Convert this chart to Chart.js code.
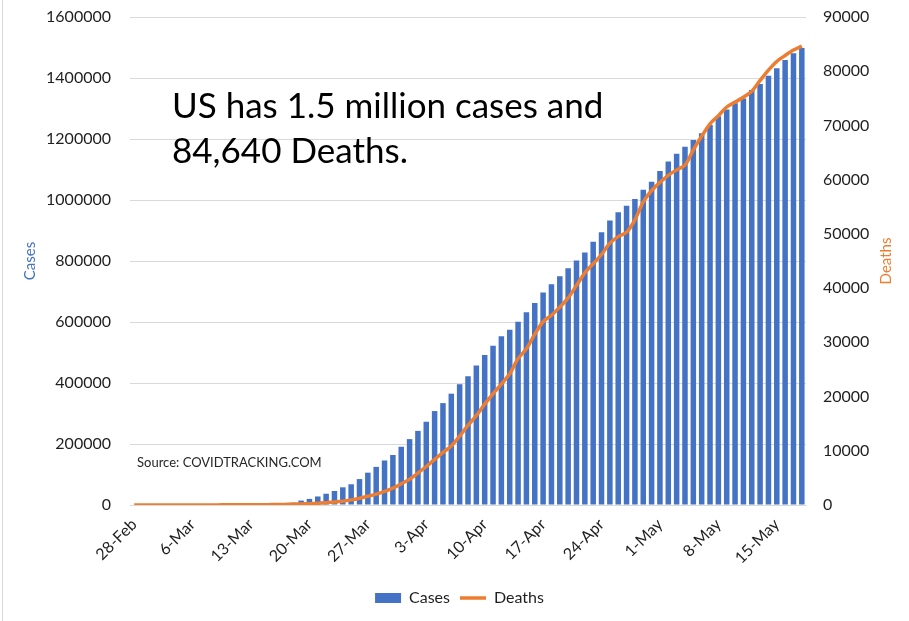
<!DOCTYPE html>
<html lang="en">
<head>
<meta charset="UTF-8">
<title>US COVID-19 Cases and Deaths</title>
<script src="https://cdn.jsdelivr.net/npm/chart.js"></script>
<style>
  body { margin: 0; background: #fff; }
  #wrap { width: 909px; height: 621px; }
</style>
</head>
<body>
<div id="wrap"><canvas id="chart" width="909" height="621"></canvas></div>
<script>
  // one label per day, 28-Feb to 18-May
  const monthNames = ['Jan', 'Feb', 'Mar', 'Apr', 'May'];
  const days = [];
  for (let i = 0; i < 81; i++) {
    const d = new Date(2020, 1, 28 + i);
    days.push(d.getDate() + '-' + monthNames[d.getMonth()]);
  }

  // cumulative totals
  const cases = [
    0, 0, 0, 2, 9, 49, 101, 161, 228, 292,
    417, 584, 959, 1281, 1922, 2450, 3173, 4019, 5723, 7730,
    14500, 20000, 28000, 37000, 46000, 58000, 68000, 85000, 106000, 125000,
    146000, 164000, 191000, 216000, 243000, 273000, 308000, 334000, 365000, 396000,
    422000, 457000, 492000, 522000, 553000, 575000, 601000, 632000, 662000, 697000,
    724000, 750000, 776000, 802000, 828000, 863000, 894000, 933000, 960000, 981000,
    1003000, 1034000, 1060000, 1095000, 1126000, 1152000, 1175000, 1197000, 1219000, 1246000,
    1275000, 1297000, 1317000, 1333000, 1361000, 1380000, 1407000, 1432000, 1459000, 1481000,
    1498000
  ];
  const deaths = [
    0, 1, 1, 6, 9, 11, 12, 14, 17, 21,
    22, 28, 36, 40, 47, 54, 63, 85, 108, 150,
    200, 250, 320, 430, 560, 710, 950, 1250, 1600, 2000,
    2500, 3100, 3900, 4750, 5900, 7100, 8400, 9700, 10900, 12700,
    14700, 16500, 18600, 20500, 22300, 24200, 27000, 28800, 31500, 33800,
    35000, 36500, 38200, 40500, 42800, 44500, 46200, 48300, 49500, 50300,
    52600, 55900, 58000, 59500, 60800, 61800, 62700, 65500, 68000, 70300,
    71800, 73400, 74300, 75200, 76300, 78300, 80200, 81800, 82900, 83900,
    84640
  ];

  const casesMax = 1600000, casesStep = 200000;
  const deathsMax = 90000, deathsStep = 10000;
  const labelEvery = 7;

  const headline = ['US has 1.5 million cases and', '84,640 Deaths.'];
  const source = 'Source: COVIDTRACKING.COM';

  const BLUE = '#4472C4';
  const ORANGE = '#ED7D31';
  const TEXT = '#1f1f1f';
  const FONT = 'Lato, "Open Sans", sans-serif';

  // tick padding also pads the axis ends; drop that so the plot reaches the top
  function fixAxis(width) {
    return scale => {
      scale.width = width;
      scale.paddingTop = 0;
      scale.paddingBottom = 0;
    };
  }

  // background, frame line, axis titles and text boxes
  const chartText = {
    id: 'chartText',
    beforeDraw(chart) {
      const { ctx, width, height } = chart;
      ctx.save();
      ctx.fillStyle = '#fff';
      ctx.fillRect(0, 0, width, height);
      ctx.strokeStyle = '#d9d9d9';
      ctx.lineWidth = 1;
      ctx.beginPath();
      ctx.moveTo(2.5, 0);
      ctx.lineTo(2.5, height);
      ctx.stroke();
      ctx.restore();
    },
    afterDraw(chart) {
      const { ctx, chartArea: a } = chart;
      const midY = (a.top + a.bottom) / 2;
      ctx.save();
      ctx.textAlign = 'center';
      ctx.textBaseline = 'middle';
      ctx.font = '15px ' + FONT;

      ctx.save();
      ctx.translate(30, midY);
      ctx.rotate(-Math.PI / 2);
      ctx.fillStyle = BLUE;
      ctx.fillText('Cases', 0, 0);
      ctx.restore();

      ctx.save();
      ctx.translate(886, midY);
      ctx.rotate(-Math.PI / 2);
      ctx.fillStyle = ORANGE;
      ctx.fillText('Deaths', 0, 0);
      ctx.restore();

      ctx.textAlign = 'left';
      ctx.textBaseline = 'alphabetic';
      ctx.fillStyle = '#000';
      ctx.font = '35px ' + FONT;
      ctx.fillText(headline[0], a.left + 42, 118);
      ctx.fillText(headline[1], a.left + 42, 163);

      ctx.fillStyle = '#262626';
      ctx.font = '13px ' + FONT;
      ctx.fillText(source, a.left + 7, 467);
      ctx.restore();
    }
  };

  new Chart(document.getElementById('chart'), {
    data: {
      labels: days,
      datasets: [
        {
          type: 'bar',
          label: 'Cases',
          data: cases,
          yAxisID: 'y',
          backgroundColor: BLUE,
          borderWidth: 0,
          categoryPercentage: 1,
          barPercentage: 0.66,
          order: 2
        },
        {
          type: 'line',
          label: 'Deaths',
          data: deaths,
          yAxisID: 'y2',
          borderColor: ORANGE,
          backgroundColor: ORANGE,
          borderWidth: 3.5,
          pointRadius: 0,
          tension: 0.3,
          fill: false,
          order: 1
        }
      ]
    },
    options: {
      responsive: false,
      animation: false,
      layout: { padding: { top: 17, left: 10, right: 0, bottom: 5 } },
      plugins: {
        tooltip: { enabled: false },
        legend: {
          position: 'bottom',
          labels: {
            usePointStyle: true,
            pointStyleWidth: 26,
            boxHeight: 10,
            padding: 10,
            color: TEXT,
            font: { family: FONT, size: 16 },
            sort: (a, b) => a.datasetIndex - b.datasetIndex,
            generateLabels(chart) {
              const items = Chart.defaults.plugins.legend.labels.generateLabels(chart);
              items.forEach(it => {
                it.pointStyle = it.datasetIndex === 0 ? 'rect' : 'line';
              });
              return items;
            }
          }
        }
      },
      scales: {
        x: {
          offset: true,
          grid: { display: false },
          border: { display: true, color: '#d9d9d9' },
          ticks: {
            autoSkip: false,
            maxRotation: 45,
            minRotation: 45,
            padding: 2,
            color: TEXT,
            font: { family: FONT, size: 16 },
            callback(value, index) {
              return index % labelEvery === 0 ? this.getLabelForValue(value) : '';
            }
          },
          afterFit(scale) { scale.height = 75; }
        },
        y: {
          position: 'left',
          min: 0,
          max: casesMax,
          grid: { color: '#d9d9d9', drawTicks: false },
          border: { display: false },
          ticks: {
            stepSize: casesStep,
            padding: 19,
            color: TEXT,
            font: { family: FONT, size: 16 },
            callback: v => String(v)
          },
          afterFit: fixAxis(120)
        },
        y2: {
          position: 'right',
          min: 0,
          max: deathsMax,
          grid: { display: false, drawTicks: false },
          border: { display: false },
          ticks: {
            stepSize: deathsStep,
            padding: 17,
            color: TEXT,
            font: { family: FONT, size: 16 },
            callback: v => String(v)
          },
          afterFit: fixAxis(103)
        }
      }
    },
    plugins: [chartText]
  });
</script>
</body>
</html>
